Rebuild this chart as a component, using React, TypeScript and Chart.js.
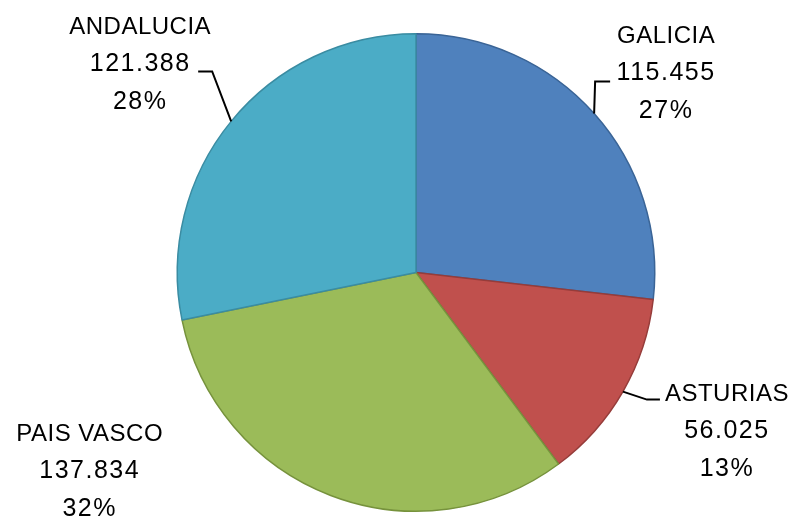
import React, { useEffect, useRef } from "react";
import { Chart, registerables } from "chart.js";

Chart.register(...registerables);

const categories = ["GALICIA", "ASTURIAS", "PAIS VASCO", "ANDALUCIA"];
const values = [115455, 56025, 137834, 121388];
const fillColors = ["#4F81BD", "#C0504D", "#9BBB59", "#4BACC6"];
const borderColors = ["#3A6496", "#963C3A", "#76923C", "#3A8CA2"];
// label placement relative to the slice's outer-edge midpoint
const labelOffsets = [
  { dx: 72, dy: -40, leader: [[1, -32], [16, -32]] },
  { dx: 104, dy: 40, leader: [[24, 8], [37, 8]] },
  { dx: -241, dy: -24, leader: null },
  { dx: -91, dy: -57, leader: [[-19, -50], [-33, -50]] },
];

function fmt(n: number): string {
  return String(n).replace(/\B(?=(\d{3})+(?!\d))/g, ".");
}

const labelPlugin = {
  id: "pieLabels",
  afterDatasetsDraw(chart: any) {
    const ctx = chart.ctx;
    const meta = chart.getDatasetMeta(0);
    const data = chart.data.datasets[0].data as number[];
    const total = data.reduce((a, b) => a + b, 0);
    ctx.save();
    meta.data.forEach((arc: any, i: number) => {
      const p = arc.getProps(["x", "y", "startAngle", "endAngle", "outerRadius"], true);
      const mid = (p.startAngle + p.endAngle) / 2;
      const ex = p.x + Math.cos(mid) * p.outerRadius;
      const ey = p.y + Math.sin(mid) * p.outerRadius;
      const off = labelOffsets[i];
      if (off.leader) {
        ctx.beginPath();
        ctx.strokeStyle = "#000";
        ctx.lineWidth = 2;
        ctx.moveTo(ex, ey);
        off.leader.forEach((pt) => ctx.lineTo(ex + pt[0], ey + pt[1]));
        ctx.stroke();
      }
      const cx = ex + off.dx;
      const cy = ey + off.dy;
      const lines = [
        categories[i],
        fmt(data[i]),
        Math.round((data[i] / total) * 100) + "%",
      ];
      ctx.fillStyle = "#000";
      ctx.textAlign = "center";
      ctx.textBaseline = "middle";
      lines.forEach((t, k) => {
        if (k === 0) {
          ctx.font = "24px 'Liberation Sans'";
          (ctx as any).letterSpacing = "0.5px";
        } else {
          ctx.font = "25px 'Liberation Sans'";
          (ctx as any).letterSpacing = "1.5px";
        }
        ctx.fillText(t, cx, cy + (k - 1) * 37.5);
      });
    });
    ctx.restore();
  },
};

export default function App() {
  const ref = useRef<HTMLCanvasElement>(null);
  useEffect(() => {
    if (!ref.current) return;
    const chart = new Chart(ref.current, {
      type: "pie",
      data: {
        labels: categories,
        datasets: [
          {
            data: values,
            backgroundColor: fillColors,
            borderColor: borderColors,
            borderWidth: 1.5,
          },
        ],
      },
      options: {
        responsive: false,
        maintainAspectRatio: false,
        animation: false,
        layout: { padding: { top: 33, bottom: 5, left: 39, right: 0 } },
        plugins: {
          legend: { display: false },
          tooltip: { enabled: false },
        },
      },
      plugins: [labelPlugin],
    });
    return () => chart.destroy();
  }, []);
  return (
    <canvas
      ref={ref}
      width={793}
      height={517}
      style={{ position: "fixed", left: 0, top: 0, width: 793, height: 517, background: "#fff" }}
    />
  );
}
